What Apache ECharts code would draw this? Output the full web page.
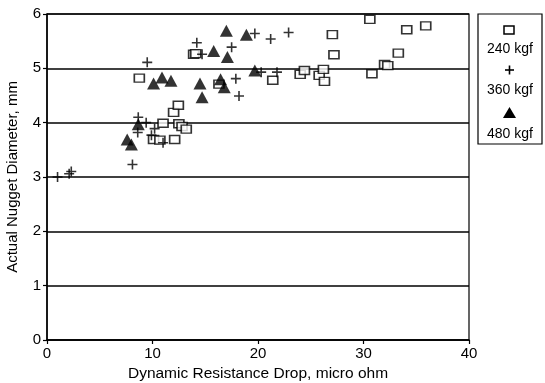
<!DOCTYPE html>
<html>
<head>
<meta charset="utf-8">
<script src="https://cdn.jsdelivr.net/npm/echarts@6/dist/echarts.min.js"></script>
<style>
  html, body { margin: 0; padding: 0; background: #fff; }
  #chart { width: 545px; height: 383px; }
</style>
</head>
<body>
<div id="chart"></div>
<script>
// Nugget diameter vs. dynamic resistance drop, per electrode force
const seriesNames = ['240 kgf', '360 kgf', '480 kgf'];

const data240 = [
  [8.75, 4.82], [10.1, 3.69], [10.7, 3.68], [11.0, 3.99], [12.0, 4.19],
  [12.1, 3.69], [12.45, 4.32], [12.5, 3.98], [12.8, 3.93], [13.2, 3.88],
  [13.9, 5.26], [14.1, 5.27], [16.3, 4.71], [21.4, 4.78], [24.0, 4.89],
  [24.4, 4.96], [25.8, 4.87], [26.2, 4.98], [26.3, 4.76], [27.05, 5.62],
  [27.2, 5.25], [30.6, 5.9], [30.8, 4.9], [32.0, 5.07], [32.3, 5.05],
  [33.3, 5.28], [34.1, 5.71], [35.9, 5.78]
];

const data360 = [
  [1.0, 3.0], [2.1, 3.06], [2.3, 3.1], [8.1, 3.23], [8.6, 3.82],
  [8.65, 4.1], [9.4, 4.0], [9.5, 5.11], [9.9, 3.77], [10.2, 3.89],
  [11.0, 3.63], [14.2, 5.47], [14.7, 5.26], [17.5, 5.39], [17.9, 4.81],
  [18.2, 4.49], [19.7, 5.64], [20.3, 4.93], [21.2, 5.54], [21.8, 4.93],
  [22.9, 5.66]
];

const data480 = [
  [7.6, 3.69], [8.0, 3.6], [8.65, 3.97], [10.1, 4.72], [10.9, 4.83],
  [11.75, 4.77], [14.5, 4.72], [14.7, 4.47], [15.8, 5.32], [16.45, 4.8],
  [16.8, 4.65], [17.0, 5.69], [17.1, 5.21], [18.9, 5.62], [19.7, 4.96]
];

const xTicks = [0, 10, 20, 30, 40];
const yTicks = [0, 1, 2, 3, 4, 5, 6];

const FONT = 'Liberation Sans, Arial, sans-serif';
const plusPath = 'path://M0,5L10,5M5,0L5,10';

const chart = echarts.init(document.getElementById('chart'), null, { renderer: 'canvas' });

const squareStyle = { symbol: 'rect', symbolSize: [10, 8], itemStyle: { color: '#fff', borderColor: '#000', borderWidth: 1.5 } };
const plusStyle = { symbol: plusPath, symbolSize: 10, itemStyle: { color: 'none', borderColor: '#000', borderWidth: 1.6 } };
const triStyle = { symbol: 'triangle', symbolSize: [13, 12], itemStyle: { color: '#000' } };

// Legend box with symbol above each label
const legendX = 510, legendTop = 14;
const legendGraphic = {
  type: 'group',
  children: [
    { type: 'rect', shape: { x: 478, y: legendTop, width: 64, height: 130 },
      style: { fill: '#fff', stroke: '#000', lineWidth: 1.2 } },
    { type: 'rect', shape: { x: legendX - 6, y: 26, width: 10, height: 8 },
      style: { fill: '#fff', stroke: '#000', lineWidth: 1.5 } },
    { type: 'text', x: legendX, y: 49, style: { text: seriesNames[0], font: '14px ' + FONT, fill: '#000', align: 'center', verticalAlign: 'middle' } },
    { type: 'polyline', shape: { points: [[legendX - 5, 70], [legendX + 4, 70]] }, style: { stroke: '#000', lineWidth: 1.6 } },
    { type: 'polyline', shape: { points: [[legendX - 0.5, 65.5], [legendX - 0.5, 74.5]] }, style: { stroke: '#000', lineWidth: 1.6 } },
    { type: 'text', x: legendX, y: 90, style: { text: seriesNames[1], font: '14px ' + FONT, fill: '#000', align: 'center', verticalAlign: 'middle' } },
    { type: 'polygon', shape: { points: [[legendX - 0.5, 107], [legendX + 6, 118], [legendX - 7, 118]] }, style: { fill: '#000' } },
    { type: 'text', x: legendX, y: 134, style: { text: seriesNames[2], font: '14px ' + FONT, fill: '#000', align: 'center', verticalAlign: 'middle' } }
  ]
};

chart.setOption({
  animation: false,
  backgroundColor: '#fff',
  grid: { left: 47, right: 76, top: 14, bottom: 43, containLabel: false, outerBoundsMode: 'none',
          show: true, borderColor: '#000', borderWidth: 1.2 },
  xAxis: {
    type: 'value',
    min: xTicks[0], max: xTicks[xTicks.length - 1], interval: 10,
    name: 'Dynamic Resistance Drop, micro ohm',
    nameLocation: 'middle', nameGap: 26,
    nameTextStyle: { fontFamily: FONT, fontSize: 15.5, color: '#000' },
    axisLine: { show: true, lineStyle: { color: '#000', width: 1.5 } },
    axisTick: { show: true, inside: false, length: 4, lineStyle: { color: '#000', width: 1.2 } },
    axisLabel: { fontFamily: FONT, fontSize: 15, color: '#000', margin: 6 },
    splitLine: { show: false }
  },
  yAxis: {
    type: 'value',
    min: yTicks[0], max: yTicks[yTicks.length - 1], interval: 1,
    name: 'Actual Nugget Diameter, mm',
    nameLocation: 'middle', nameGap: 27, nameRotate: 90,
    nameTextStyle: { fontFamily: FONT, fontSize: 15, color: '#000' },
    axisLine: { show: true, lineStyle: { color: '#000', width: 1.5 } },
    axisTick: { show: true, inside: false, length: 4, lineStyle: { color: '#000', width: 1.2 } },
    axisLabel: { fontFamily: FONT, fontSize: 15, color: '#000', margin: 6 },
    splitLine: { show: true, lineStyle: { color: '#000', width: 1.5 } }
  },
  graphic: [legendGraphic],
  series: [
    Object.assign({ type: 'scatter', name: seriesNames[0], data: data240, z: 3 }, squareStyle),
    Object.assign({ type: 'scatter', name: seriesNames[1], data: data360, z: 4 }, plusStyle),
    Object.assign({ type: 'scatter', name: seriesNames[2], data: data480, z: 5 }, triStyle)
  ]
});
</script>
</body>
</html>
